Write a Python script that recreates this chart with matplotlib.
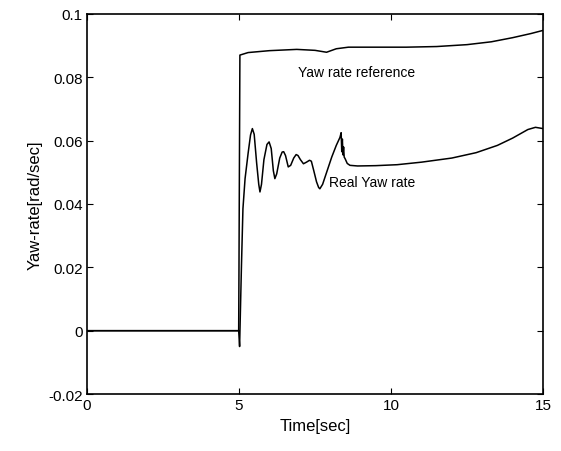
import matplotlib
matplotlib.use("Agg")
import matplotlib.pyplot as plt

plt.rcParams['font.family'] = ['Liberation Sans', 'DejaVu Sans']

# Yaw rate reference
t_ref = [0, 4.99, 5.0, 5.03, 5.3, 6.0, 6.9, 7.5, 7.88, 8.2, 8.6, 9.5, 10.5, 11.5,
         12.5, 13.3, 14.0, 14.6, 15.0]
yaw_ref = [0, 0, 0.02, 0.0870, 0.0878, 0.0884, 0.0888, 0.0885, 0.0879, 0.0890,
           0.0895, 0.0895, 0.0895, 0.0897, 0.0903, 0.0912, 0.0925, 0.0938, 0.0948]

# Real yaw rate
t_real = [0, 4.99, 5.02, 5.08, 5.13, 5.2, 5.3, 5.38, 5.44, 5.5, 5.58, 5.65, 5.69,
          5.74, 5.82, 5.92, 5.99, 6.06, 6.13, 6.18, 6.24, 6.34, 6.42, 6.47, 6.53,
          6.62, 6.7, 6.8, 6.88, 6.94, 7.02, 7.12, 7.22, 7.32, 7.38, 7.46, 7.55,
          7.62, 7.66, 7.75, 7.9, 8.05, 8.2, 8.32, 8.36, 8.38, 8.40, 8.42, 8.44,
          8.46, 8.49, 8.56, 8.65, 8.9, 9.5, 10.2, 11.0, 12.0, 12.8, 13.5, 14.0,
          14.5, 14.75, 15.0]
yaw_real = [0, 0, -0.005, 0.02, 0.0385, 0.048, 0.056, 0.0618, 0.0638, 0.062, 0.053,
            0.0462, 0.0438, 0.0462, 0.054, 0.0588, 0.0596, 0.0575, 0.0505, 0.048,
            0.0495, 0.0545, 0.0564, 0.0565, 0.0553, 0.0517, 0.0522, 0.0545, 0.0556,
            0.0553, 0.054, 0.0527, 0.0532, 0.0538, 0.0535, 0.0505, 0.047, 0.0452,
            0.0448, 0.0462, 0.0505, 0.0548, 0.0585, 0.061, 0.0625, 0.0565, 0.0605,
            0.0555, 0.058, 0.0548, 0.0543, 0.0528, 0.0522, 0.052, 0.0521, 0.0524,
            0.0532, 0.0545, 0.0562, 0.0585, 0.0608, 0.0635, 0.0642, 0.0638]

x_ticks = [0, 5, 10, 15]
y_ticks = [-0.02, 0, 0.02, 0.04, 0.06, 0.08, 0.1]
y_labels = ['-0.02', '0', '0.02', '0.04', '0.06', '0.08', '0.1']

fig = plt.figure(figsize=(5.61, 4.52), dpi=100)
ax = fig.add_axes([0.155, 0.126, 0.813, 0.841])

ax.plot(t_ref, yaw_ref, color='black', linewidth=1.1)
ax.plot(t_real, yaw_real, color='black', linewidth=1.1)

ax.set_xlim(0, 15)
ax.set_ylim(-0.02, 0.1)
ax.set_xticks(x_ticks)
ax.set_yticks(y_ticks)
ax.set_yticklabels(y_labels)
ax.tick_params(direction='in', top=True, right=True, labelsize=11, length=4, pad=3)
for s in ax.spines.values():
    s.set_linewidth(1.2)

ax.set_xlabel('Time[sec]', fontsize=12)
ax.set_ylabel('Yaw-rate[rad/sec]', fontsize=12)

ax.text(6.95, 0.0818, 'Yaw rate reference', fontsize=10, va='center')
ax.text(7.95, 0.047, 'Real Yaw rate', fontsize=10, va='center')

fig.savefig('out.png', dpi=100)
